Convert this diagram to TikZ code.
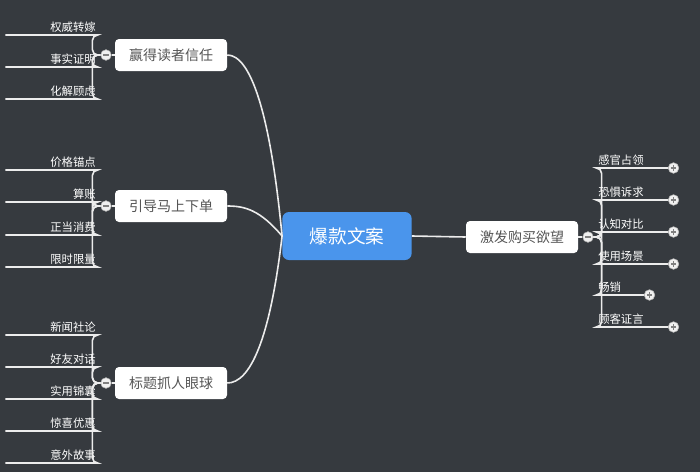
\documentclass[tikz,border=0pt]{standalone}
\usepackage{fontspec}
\setmainfont{Noto Sans CJK SC}
\definecolor{bg}{HTML}{363A3F}
\definecolor{mainblue}{HTML}{4A95EC}
\definecolor{boxgray}{HTML}{555555}
\begin{document}
\begin{tikzpicture}[x=0.75pt,y=-0.75pt,
	topic/.style={rectangle,rounded corners=3pt,fill=white,text=boxgray,font=\fontsize{10.5pt}{12pt}\selectfont,minimum width=84pt,minimum height=24pt,inner sep=2pt},
	leaf/.style={text=white,font=\fontsize{8.5pt}{10pt}\selectfont,inner sep=1.5pt,minimum height=11pt},
	wire/.style={draw=white!85!gray,line width=1.2pt,rounded corners=4pt},
	knob/.style={circle,fill=white!88!gray,draw=gray!60,minimum size=8pt,inner sep=0pt},
	minus/.style={knob,path picture={\draw[gray,line width=0.8pt] ([xshift=-2pt]path picture bounding box.center) -- ([xshift=2pt]path picture bounding box.center);}},
	plus/.style={knob,path picture={\draw[gray,line width=0.8pt] ([xshift=-2pt]path picture bounding box.center) -- ([xshift=2pt]path picture bounding box.center) ([yshift=-2pt]path picture bounding box.center) -- ([yshift=2pt]path picture bounding box.center);}}]
	\fill[bg] (0,0) rectangle (700,472);
	\useasboundingbox (0,0) rectangle (700,472);

	\node[rectangle,rounded corners=5pt,fill=mainblue,text=white,font=\fontsize{14pt}{16pt}\selectfont,minimum width=97pt,minimum height=36pt] (Center) at (347,236) {爆款文案};
	\node[topic] (Trust) at (171,55) {赢得读者信任};
	\node[topic] (Order) at (171,206) {引导马上下单};
	\node[topic] (Title) at (171,383) {标题抓人眼球};
	\node[topic] (Desire) at (522,237) {激发购买欲望};

	% main connectors
	\draw[wire] (Center.west) .. controls (270,110) and (250,55) .. (Trust.east);
	\draw[wire] (Center.west) .. controls (260,210) and (245,206) .. (Order.east);
	\draw[wire] (Center.west) .. controls (270,340) and (250,383) .. (Title.east);
	\draw[wire] (Center.east) -- (Desire.west);

	% collapse knobs
	\node[minus] (Trust knob) at (106,55) {};
	\node[minus] (Order knob) at (106,206) {};
	\node[minus] (Title knob) at (106,383) {};
	\node[minus] (Desire knob) at (588,237) {};
	\draw[wire] (Trust.west) -- (Trust knob);
	\draw[wire] (Order.west) -- (Order knob);
	\draw[wire] (Title.west) -- (Title knob);
	\draw[wire] (Desire.east) -- (Desire knob);

	% left leaves
	\foreach \name/\txt/\y/\grp in {T1/权威转嫁/35/Trust, T2/事实证明/67/Trust, T3/化解顾虑/99/Trust,
		O1/价格锚点/170/Order, O2/算账/202/Order, O3/正当消费/235/Order, O4/限时限量/267/Order,
		H1/新闻社论/335/Title, H2/好友对话/367/Title, H3/实用锦囊/399/Title, H4/惊喜优惠/431/Title, H5/意外故事/463/Title}{
		\node[leaf,anchor=south east,text width=66pt,align=right] (\name) at (98,\y) {\txt};
		\draw[wire] (\grp\space knob.west) -- ++(-8,0) |- (\name.south east) -- (\name.south west);
	}

	% right leaves
	\foreach \name/\txt/\y/\w in {D1/感官占领/168/77, D2/恐惧诉求/200/77, D3/认知对比/232/77, D4/使用场景/264/77, D5/畅销/295/53, D6/顾客证言/327/77}{
		\node[leaf,anchor=south west,text width=\w*0.75pt-3pt,align=left] (\name) at (596,\y) {\txt};
		\draw[wire] (Desire knob.east) -- ++(8,0) |- (\name.south west) -- (\name.south east);
		\node[plus] (\name\space knob) at (\name.south east) {};
	}
\end{tikzpicture}
\end{document}
